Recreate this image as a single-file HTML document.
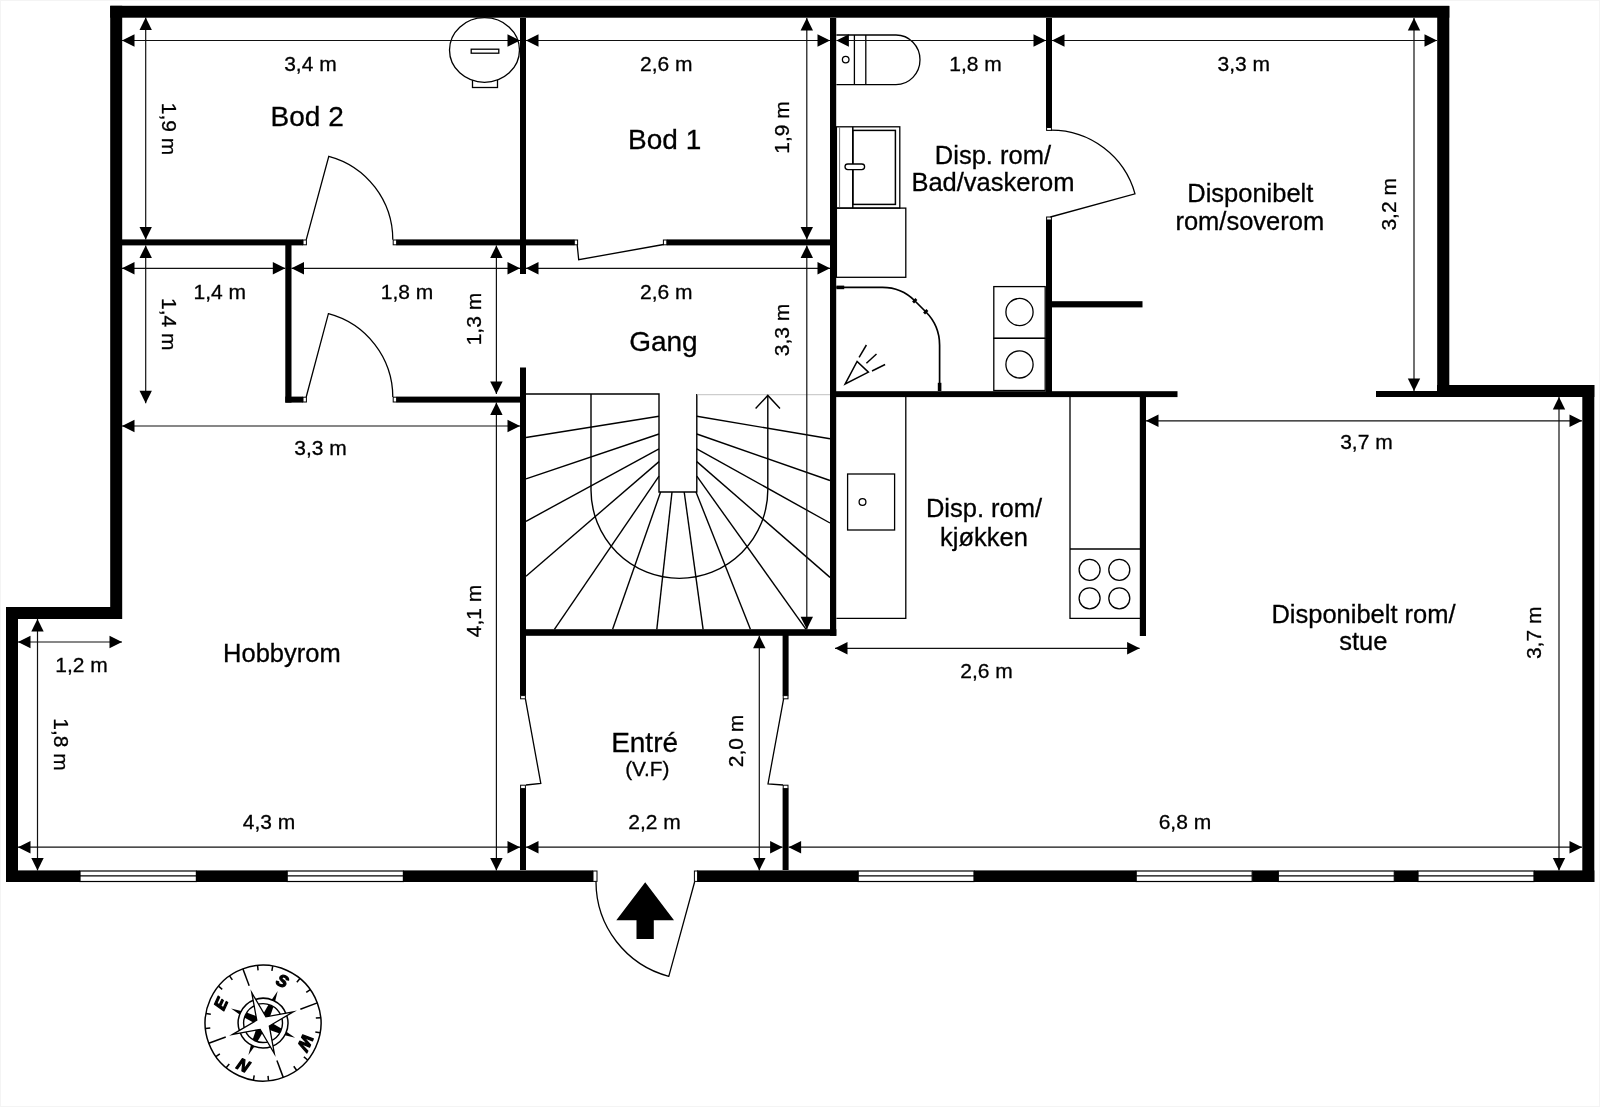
<!DOCTYPE html>
<html lang="no">
<head>
<meta charset="utf-8">
<title>Plantegning</title>
<style>
html,body{margin:0;padding:0;background:#fff;}
body{width:1600px;height:1107px;overflow:hidden;}
svg{display:block;will-change:transform;}
.w{fill:#000;}
.k{fill:#000;}
.t{fill:none;stroke:#000;stroke-width:1.3;}
.d{stroke:#111;stroke-width:1.2;}
.s{fill:none;stroke:#000;stroke-width:1.4;}
.sg{stroke:#cdcdcd;stroke-width:1.1;}
.f{fill:none;stroke:#000;stroke-width:1.3;}
.fg{stroke:#777;stroke-width:1;}
.f2{fill:none;stroke:#000;stroke-width:1.5;}
.sh{fill:none;stroke:#000;stroke-width:1.7;}
.sr{stroke:#000;stroke-width:1.5;}
.sh3{stroke:#000;stroke-width:3.6;}
.win{fill:#fff;stroke:#000;stroke-width:1.2;}
.wl{stroke:#000;stroke-width:1.2;}
.cap{fill:#fff;stroke:#000;stroke-width:1;}
.c{fill:none;stroke:#000;stroke-width:1.5;}
.tx{font-family:"Liberation Sans", sans-serif;fill:#000;stroke:#000;stroke-width:0.3px;text-anchor:middle;}
.cl{font-family:"Liberation Sans", sans-serif;font-weight:bold;font-style:italic;font-size:16.6px;fill:#000;stroke:#000;stroke-width:1.2;stroke-linejoin:round;text-anchor:middle;}
</style>
</head>
<body>
<svg width="1600" height="1107" viewBox="0 0 1600 1107">
<rect x="0" y="0" width="1600" height="1107" fill="#fff"/>
<rect x="0.5" y="0.5" width="1599" height="1106" fill="none" stroke="#f4f4f4" stroke-width="1"/>
<g id="outer">
<rect class="w" x="110.2" y="5.8" width="1339.1" height="11.9"/>
<rect class="w" x="110.2" y="5.8" width="12.0" height="613.2"/>
<rect class="w" x="6" y="607" width="116" height="12"/>
<rect class="w" x="6" y="607" width="12" height="275"/>
<rect class="w" x="1437.2" y="6" width="12.1" height="391"/>
<rect class="w" x="1437" y="385" width="157.3" height="12"/>
<rect class="w" x="1582.3" y="385" width="12.0" height="497"/>
<rect class="w" x="6" y="870.4" width="74" height="11.6"/>
<rect class="w" x="196.4" y="870.4" width="90.8" height="11.6"/>
<rect class="w" x="403.4" y="870.4" width="189.6" height="11.6"/>
<rect class="w" x="697" y="870.4" width="161.2" height="11.6"/>
<rect class="w" x="974" y="870.4" width="162.2" height="11.6"/>
<rect class="w" x="1252.2" y="870.4" width="26.1" height="11.6"/>
<rect class="w" x="1394.3" y="870.4" width="23.7" height="11.6"/>
<rect class="w" x="1534" y="870.4" width="60.3" height="11.6"/>
</g>
<g id="windows">
<rect class="win" x="80" y="871" width="116.4" height="10.5"/>
<line class="wl" x1="80" y1="875.9" x2="196.4" y2="875.9"/>
<rect class="win" x="287.2" y="871" width="116.2" height="10.5"/>
<line class="wl" x1="287.2" y1="875.9" x2="403.4" y2="875.9"/>
<rect class="win" x="858.2" y="871" width="115.8" height="10.5"/>
<line class="wl" x1="858.2" y1="875.9" x2="974" y2="875.9"/>
<rect class="win" x="1136.2" y="871" width="116.0" height="10.5"/>
<line class="wl" x1="1136.2" y1="875.9" x2="1252.2" y2="875.9"/>
<rect class="win" x="1278.3" y="871" width="116.0" height="10.5"/>
<line class="wl" x1="1278.3" y1="875.9" x2="1394.3" y2="875.9"/>
<rect class="win" x="1418" y="871" width="116" height="10.5"/>
<line class="wl" x1="1418" y1="875.9" x2="1534" y2="875.9"/>
</g>
<g id="inner">
<rect class="w" x="520" y="18" width="6" height="256"/>
<rect class="w" x="122" y="239.4" width="181" height="6.0"/>
<rect class="w" x="396.6" y="239.4" width="177.7" height="6.0"/>
<rect class="w" x="666.8" y="239.4" width="163.2" height="6.0"/>
<rect class="w" x="285.3" y="245" width="6.2" height="157.6"/>
<rect class="w" x="285.3" y="396.6" width="17.7" height="6.0"/>
<rect class="w" x="396.6" y="396.6" width="129.4" height="6.0"/>
<rect class="w" x="520" y="367.5" width="6" height="328.1"/>
<rect class="w" x="520" y="788.6" width="6" height="81.4"/>
<rect class="w" x="520" y="629.2" width="316.4" height="6.6"/>
<rect class="w" x="830" y="18" width="6.2" height="617.8"/>
<rect class="w" x="782.6" y="635" width="6.0" height="60.6"/>
<rect class="w" x="782.6" y="788.6" width="6.0" height="81.4"/>
<rect class="w" x="1046" y="18" width="6" height="109.5"/>
<rect class="w" x="1046" y="220" width="6" height="172"/>
<rect class="w" x="1052" y="301.2" width="90.5" height="6.2"/>
<rect class="w" x="830" y="391.2" width="347.5" height="5.9"/>
<rect class="w" x="1139.8" y="397" width="6.2" height="239"/>
<rect class="w" x="1376" y="391" width="61" height="6"/>
</g>
<g id="caps">
<rect class="cap" x="303" y="240" width="3.4" height="4.8"/>
<rect class="cap" x="393.2" y="240" width="3.4" height="4.8"/>
<rect class="cap" x="303" y="397.2" width="3.4" height="4.8"/>
<rect class="cap" x="393.2" y="397.2" width="3.4" height="4.8"/>
<rect class="cap" x="574.3" y="240" width="3.3" height="4.8"/>
<rect class="cap" x="663.4" y="240" width="3.4" height="4.8"/>
<rect class="cap" x="520.6" y="695.6" width="4.8" height="3.2"/>
<rect class="cap" x="520.6" y="785.2" width="4.8" height="3.4"/>
<rect class="cap" x="783.2" y="695.6" width="4.8" height="3.2"/>
<rect class="cap" x="783.2" y="785.2" width="4.8" height="3.4"/>
<rect class="cap" x="1046.6" y="127.5" width="4.8" height="2.9"/>
<rect class="cap" x="1046.6" y="217" width="4.8" height="3"/>
<rect class="cap" x="593" y="871" width="4" height="10.4"/>
<rect class="cap" x="694.4" y="871" width="3.2" height="10.4"/>
</g>
<g id="doors">
<path class="t" d="M306.2,239.8 L328.8,156.3 A86.5,86.5 0 0 1 392.8,239.8"/>
<path class="t" d="M306.2,397 L328.4,313.7 A86.5,86.5 0 0 1 392.8,397"/>
<path class="t" d="M577.2,244.9 L578.7,259.7 L663.6,244.5"/>
<path class="t" d="M525.4,698.8 L540.8,783.4 L526,785"/>
<path class="t" d="M783.6,698.8 L768,783.8 L783,785"/>
<path class="t" d="M1051,130.2 A87,87 0 0 1 1135,193.8 L1050.4,217"/>
<path class="t" d="M596,882 A97.85,97.85 0 0 0 668.8,976.3 L694.6,882"/>
<polygon class="k" points="645.2,882.2 674,920.2 653.8,920.2 653.8,938.9 636.5,938.9 636.5,920.2 616.3,920.2"/>
</g>
<g id="stairs">
<path class="s" d="M526,394 L659,394 L659,492 L696.8,492 L696.8,394"/>
<line class="sg" x1="697.4" y1="394.6" x2="830" y2="394.6"/>
<path class="s" d="M591,394 L591,490 A88.4,88.4 0 0 0 767.8,490 L767.8,396"/>
<path class="s" d="M755.6,408.6 L767.8,395.4 L780,408.6"/>
<line class="s" x1="659" y1="416.3" x2="526" y2="437.5"/>
<line class="s" x1="659" y1="434" x2="526" y2="478.8"/>
<line class="s" x1="659" y1="448.9" x2="526" y2="521.3"/>
<line class="s" x1="659" y1="461.6" x2="526" y2="576.2"/>
<line class="s" x1="659" y1="476.2" x2="554.4" y2="629.3"/>
<line class="s" x1="660.6" y1="492" x2="612.6" y2="629.3"/>
<line class="s" x1="672" y1="492" x2="656.8" y2="629.3"/>
<line class="s" x1="684.2" y1="492" x2="703.1" y2="629.3"/>
<line class="s" x1="696" y1="492" x2="750.4" y2="629.3"/>
<line class="s" x1="696.8" y1="476.2" x2="806.1" y2="629.3"/>
<line class="s" x1="696.8" y1="461.6" x2="830" y2="577.4"/>
<line class="s" x1="696.8" y1="448.9" x2="830" y2="523"/>
<line class="s" x1="696.8" y1="434" x2="830" y2="480.5"/>
<line class="s" x1="696.8" y1="416.3" x2="830" y2="438.8"/>
</g>
<g id="fixtures">
<rect class="f" x="472.5" y="78" width="25" height="9.5"/>
<ellipse class="f" cx="484.5" cy="50" rx="35" ry="32.3" style="fill:#fff"/>
<rect class="f" x="471.2" y="49.2" width="27.6" height="4"/>
<path class="f" d="M836.4,35 L896,35 A24,24.8 0 0 1 896,84.6 L836.4,84.6"/>
<line class="f" x1="854.4" y1="35" x2="854.4" y2="84.6"/>
<line class="f" x1="865.8" y1="35" x2="865.8" y2="84.6"/>
<circle class="f" cx="845.7" cy="59.6" r="3.3"/>
<rect class="f" x="836.4" y="126.8" width="63.4" height="81.3"/>
<line class="fg" x1="839.6" y1="126.8" x2="839.6" y2="208.1"/>
<line class="f2" x1="852.8" y1="126.8" x2="852.8" y2="208.1"/>
<rect class="f2" x="852.8" y="130.4" width="42.6" height="74"/>
<rect class="f" x="845" y="164" width="19.6" height="5.6" rx="2.8" style="fill:#fff"/>
<rect class="f" x="836.4" y="208.1" width="69.4" height="69.2"/>
<path class="sh" d="M836.4,287.4 L882.5,287.4 A45.6,45.6 0 0 1 914.74,300.76 L925.74,311.76 A47.3,47.3 0 0 1 939.6,345.2 L939.6,391"/>
<line class="sh3" x1="836.4" y1="287.4" x2="844.2" y2="287.4"/>
<line class="sh3" x1="939.6" y1="382.8" x2="939.6" y2="391"/>
<line class="sh3" style="stroke-width:2.8" x1="913.1" y1="302.4" x2="916.4" y2="299.1"/>
<line class="sh3" style="stroke-width:2.8" x1="924.1" y1="313.4" x2="927.4" y2="310.1"/>
<polygon class="f" style="stroke-width:1.5" points="845.2,383.9 857.1,361.4 868.4,372.1"/>
<line class="sr" x1="859.1" y1="357.4" x2="866.4" y2="345"/>
<line class="sr" x1="866.4" y1="363.3" x2="876.5" y2="354"/>
<line class="sr" x1="872" y1="371" x2="885.1" y2="364.5"/>
<rect class="f" x="993.8" y="286.6" width="51.4" height="51.7"/>
<rect class="f" x="993.8" y="338.3" width="51.4" height="52.2"/>
<circle class="f" cx="1019.5" cy="312" r="13.6"/>
<circle class="f" cx="1019.5" cy="364.4" r="13.6"/>
<path class="f" d="M905.8,397 L905.8,618.4 L836.4,618.4"/>
<path class="f" d="M1070,397 L1070,618.4 L1140,618.4"/>
<line class="f" x1="1070" y1="549" x2="1140" y2="549"/>
<rect class="f" x="847.6" y="474" width="47" height="56"/>
<circle class="f" cx="862.5" cy="502" r="3.4"/>
<circle class="f" cx="1089.6" cy="569.8" r="10.5"/>
<circle class="f" cx="1089.6" cy="598.3" r="10.5"/>
<circle class="f" cx="1119.3" cy="569.8" r="10.5"/>
<circle class="f" cx="1119.3" cy="598.3" r="10.5"/>
</g>
<g id="dims">
<line class="d" x1="122" y1="40.5" x2="520" y2="40.5"/>
<polygon class="k" points="122,40.5 134.5,34.3 134.5,46.7"/>
<polygon class="k" points="520,40.5 507.5,34.3 507.5,46.7"/>
<line class="d" x1="526" y1="40.5" x2="830" y2="40.5"/>
<polygon class="k" points="526,40.5 538.5,34.3 538.5,46.7"/>
<polygon class="k" points="830,40.5 817.5,34.3 817.5,46.7"/>
<line class="d" x1="836.4" y1="40.5" x2="1046" y2="40.5"/>
<polygon class="k" points="836.4,40.5 848.9,34.3 848.9,46.7"/>
<polygon class="k" points="1046,40.5 1033.5,34.3 1033.5,46.7"/>
<line class="d" x1="1052" y1="40.5" x2="1437" y2="40.5"/>
<polygon class="k" points="1052,40.5 1064.5,34.3 1064.5,46.7"/>
<polygon class="k" points="1437,40.5 1424.5,34.3 1424.5,46.7"/>
<line class="d" x1="145.7" y1="17.6" x2="145.7" y2="239.4"/>
<polygon class="k" points="145.7,17.6 139.5,30.1 151.89999999999998,30.1"/>
<polygon class="k" points="145.7,239.4 139.5,226.9 151.89999999999998,226.9"/>
<line class="d" x1="806.8" y1="18" x2="806.8" y2="239.4"/>
<polygon class="k" points="806.8,18 800.5999999999999,30.5 813.0,30.5"/>
<polygon class="k" points="806.8,239.4 800.5999999999999,226.9 813.0,226.9"/>
<line class="d" x1="1414" y1="18" x2="1414" y2="391"/>
<polygon class="k" points="1414,18 1407.8,30.5 1420.2,30.5"/>
<polygon class="k" points="1414,391 1407.8,378.5 1420.2,378.5"/>
<line class="d" x1="122" y1="268.3" x2="285.3" y2="268.3"/>
<polygon class="k" points="122,268.3 134.5,262.1 134.5,274.5"/>
<polygon class="k" points="285.3,268.3 272.8,262.1 272.8,274.5"/>
<line class="d" x1="291.5" y1="268.3" x2="520" y2="268.3"/>
<polygon class="k" points="291.5,268.3 304.0,262.1 304.0,274.5"/>
<polygon class="k" points="520,268.3 507.5,262.1 507.5,274.5"/>
<line class="d" x1="526" y1="268.3" x2="830" y2="268.3"/>
<polygon class="k" points="526,268.3 538.5,262.1 538.5,274.5"/>
<polygon class="k" points="830,268.3 817.5,262.1 817.5,274.5"/>
<line class="d" x1="145.7" y1="245.4" x2="145.7" y2="403.2"/>
<polygon class="k" points="145.7,245.4 139.5,257.9 151.89999999999998,257.9"/>
<polygon class="k" points="145.7,403.2 139.5,390.7 151.89999999999998,390.7"/>
<line class="d" x1="496.4" y1="245.4" x2="496.4" y2="394"/>
<polygon class="k" points="496.4,245.4 490.2,257.9 502.59999999999997,257.9"/>
<polygon class="k" points="496.4,394 490.2,381.5 502.59999999999997,381.5"/>
<line class="d" x1="806.8" y1="245.4" x2="806.8" y2="629.2"/>
<polygon class="k" points="806.8,245.4 800.5999999999999,257.9 813.0,257.9"/>
<polygon class="k" points="806.8,629.2 800.5999999999999,616.7 813.0,616.7"/>
<line class="d" x1="122" y1="426" x2="520" y2="426"/>
<polygon class="k" points="122,426 134.5,419.8 134.5,432.2"/>
<polygon class="k" points="520,426 507.5,419.8 507.5,432.2"/>
<line class="d" x1="496.4" y1="402.4" x2="496.4" y2="870.5"/>
<polygon class="k" points="496.4,402.4 490.2,414.9 502.59999999999997,414.9"/>
<polygon class="k" points="496.4,870.5 490.2,858.0 502.59999999999997,858.0"/>
<line class="d" x1="1146" y1="420.8" x2="1582" y2="420.8"/>
<polygon class="k" points="1146,420.8 1158.5,414.6 1158.5,427.0"/>
<polygon class="k" points="1582,420.8 1569.5,414.6 1569.5,427.0"/>
<line class="d" x1="1559" y1="397" x2="1559" y2="870.5"/>
<polygon class="k" points="1559,397 1552.8,409.5 1565.2,409.5"/>
<polygon class="k" points="1559,870.5 1552.8,858.0 1565.2,858.0"/>
<line class="d" x1="18" y1="642" x2="122" y2="642"/>
<polygon class="k" points="18,642 30.5,635.8 30.5,648.2"/>
<polygon class="k" points="122,642 109.5,635.8 109.5,648.2"/>
<line class="d" x1="37.5" y1="619" x2="37.5" y2="870.5"/>
<polygon class="k" points="37.5,619 31.3,631.5 43.7,631.5"/>
<polygon class="k" points="37.5,870.5 31.3,858.0 43.7,858.0"/>
<line class="d" x1="835" y1="648.3" x2="1139.6" y2="648.3"/>
<polygon class="k" points="835,648.3 847.5,642.0999999999999 847.5,654.5"/>
<polygon class="k" points="1139.6,648.3 1127.1,642.0999999999999 1127.1,654.5"/>
<line class="d" x1="18" y1="847.2" x2="520" y2="847.2"/>
<polygon class="k" points="18,847.2 30.5,841.0 30.5,853.4000000000001"/>
<polygon class="k" points="520,847.2 507.5,841.0 507.5,853.4000000000001"/>
<line class="d" x1="526" y1="847.2" x2="782.6" y2="847.2"/>
<polygon class="k" points="526,847.2 538.5,841.0 538.5,853.4000000000001"/>
<polygon class="k" points="782.6,847.2 770.1,841.0 770.1,853.4000000000001"/>
<line class="d" x1="788.6" y1="847.2" x2="1582" y2="847.2"/>
<polygon class="k" points="788.6,847.2 801.1,841.0 801.1,853.4000000000001"/>
<polygon class="k" points="1582,847.2 1569.5,841.0 1569.5,853.4000000000001"/>
<line class="d" x1="759.3" y1="635.8" x2="759.3" y2="870.5"/>
<polygon class="k" points="759.3,635.8 753.0999999999999,648.3 765.5,648.3"/>
<polygon class="k" points="759.3,870.5 753.0999999999999,858.0 765.5,858.0"/>
</g>
<g id="labels">
<text class="tx" x="310.4" y="71.4" font-size="21">3,4 m</text>
<text class="tx" x="666.3" y="71.4" font-size="21">2,6 m</text>
<text class="tx" x="975.6" y="71.4" font-size="21">1,8 m</text>
<text class="tx" x="1243.8" y="71.4" font-size="21">3,3 m</text>
<text class="tx" x="219.8" y="299.2" font-size="21">1,4 m</text>
<text class="tx" x="407.1" y="299.2" font-size="21">1,8 m</text>
<text class="tx" x="666.3" y="299.2" font-size="21">2,6 m</text>
<text class="tx" x="320.6" y="454.8" font-size="21">3,3 m</text>
<text class="tx" x="1366.4" y="449.4" font-size="21">3,7 m</text>
<text class="tx" x="81.6" y="671.8" font-size="21">1,2 m</text>
<text class="tx" x="986.6" y="677.6" font-size="21">2,6 m</text>
<text class="tx" x="269.1" y="828.8" font-size="21">4,3 m</text>
<text class="tx" x="654.6" y="828.8" font-size="21">2,2 m</text>
<text class="tx" x="1184.9" y="828.8" font-size="21">6,8 m</text>
<text class="tx" x="162" y="129.1" font-size="21" transform="rotate(90 162 129.1)">1,9 m</text>
<text class="tx" x="162" y="324.3" font-size="21" transform="rotate(90 162 324.3)">1,4 m</text>
<text class="tx" x="54.3" y="744.5" font-size="21" transform="rotate(90 54.3 744.5)">1,8 m</text>
<text class="tx" x="788.6" y="127.5" font-size="21" transform="rotate(-90 788.6 127.5)">1,9 m</text>
<text class="tx" x="481" y="319.1" font-size="21" transform="rotate(-90 481 319.1)">1,3 m</text>
<text class="tx" x="788.6" y="330" font-size="21" transform="rotate(-90 788.6 330)">3,3 m</text>
<text class="tx" x="1395.6" y="204.3" font-size="21" transform="rotate(-90 1395.6 204.3)">3,2 m</text>
<text class="tx" x="481" y="610.9" font-size="21" transform="rotate(-90 481 610.9)">4,1 m</text>
<text class="tx" x="742.6" y="740.9" font-size="21" transform="rotate(-90 742.6 740.9)">2,0 m</text>
<text class="tx" x="1541" y="632.8" font-size="21" transform="rotate(-90 1541 632.8)">3,7 m</text>
<text class="tx" x="307.2" y="125.6" font-size="28">Bod 2</text>
<text class="tx" x="664.7" y="148.8" font-size="28">Bod 1</text>
<text class="tx" x="663.4" y="350.6" font-size="28">Gang</text>
<text class="tx" x="281.9" y="662" font-size="25.5">Hobbyrom</text>
<text class="tx" x="644.6" y="752.2" font-size="28">Entré</text>
<text class="tx" x="647.3" y="776.4" font-size="20.8">(V.F)</text>
<text class="tx" x="992.9" y="163.6" font-size="25.5">Disp. rom/</text>
<text class="tx" x="992.9" y="191.3" font-size="25.5">Bad/vaskerom</text>
<text class="tx" x="1250.3" y="201.5" font-size="25.5">Disponibelt</text>
<text class="tx" x="1249.8" y="229.6" font-size="25.5">rom/soverom</text>
<text class="tx" x="984" y="517.4" font-size="25.5">Disp. rom/</text>
<text class="tx" x="983.9" y="545.6" font-size="25.5">kjøkken</text>
<text class="tx" x="1363.5" y="622.6" font-size="25.5">Disponibelt rom/</text>
<text class="tx" x="1363.3" y="650.2" font-size="25.5">stue</text>
</g>
<g id="compass" transform="translate(263.05 1023.1) rotate(204.6)">
<circle class="c" cx="0" cy="0" r="57.9"/>
<line class="c" x1="13.72" y1="-51.19" x2="14.99" y2="-55.93"/>
<line class="c" x1="26.50" y1="-45.90" x2="28.95" y2="-50.14"/>
<line class="c" x1="28.14" y1="-28.14" x2="40.94" y2="-40.94"/>
<line class="c" x1="45.90" y1="-26.50" x2="50.14" y2="-28.95"/>
<line class="c" x1="51.19" y1="-13.72" x2="55.93" y2="-14.99"/>
<line class="c" x1="51.19" y1="13.72" x2="55.93" y2="14.99"/>
<line class="c" x1="45.90" y1="26.50" x2="50.14" y2="28.95"/>
<line class="c" x1="28.14" y1="28.14" x2="40.94" y2="40.94"/>
<line class="c" x1="26.50" y1="45.90" x2="28.95" y2="50.14"/>
<line class="c" x1="13.72" y1="51.19" x2="14.99" y2="55.93"/>
<line class="c" x1="-13.72" y1="51.19" x2="-14.99" y2="55.93"/>
<line class="c" x1="-26.50" y1="45.90" x2="-28.95" y2="50.14"/>
<line class="c" x1="-28.14" y1="28.14" x2="-40.94" y2="40.94"/>
<line class="c" x1="-45.90" y1="26.50" x2="-50.14" y2="28.95"/>
<line class="c" x1="-51.19" y1="13.72" x2="-55.93" y2="14.99"/>
<line class="c" x1="-51.19" y1="-13.72" x2="-55.93" y2="-14.99"/>
<line class="c" x1="-45.90" y1="-26.50" x2="-50.14" y2="-28.95"/>
<line class="c" x1="-28.14" y1="-28.14" x2="-40.94" y2="-40.94"/>
<line class="c" x1="-26.50" y1="-45.90" x2="-28.95" y2="-50.14"/>
<line class="c" x1="-13.72" y1="-51.19" x2="-14.99" y2="-55.93"/>
<polygon class="k" transform="rotate(0)" points="-4.4,0 -2.65,-19.4 -1.9,-24.9 0,-35.2 1.9,-24.9 2.65,-19.4 4.4,0"/>
<polygon class="k" transform="rotate(90)" points="-4.4,0 -2.65,-19.4 -1.9,-24.9 0,-35.2 1.9,-24.9 2.65,-19.4 4.4,0"/>
<polygon class="k" transform="rotate(180)" points="-4.4,0 -2.65,-19.4 -1.9,-24.9 0,-35.2 1.9,-24.9 2.65,-19.4 4.4,0"/>
<polygon class="k" transform="rotate(270)" points="-4.4,0 -2.65,-19.4 -1.9,-24.9 0,-35.2 1.9,-24.9 2.65,-19.4 4.4,0"/>
<circle cx="0" cy="0" r="22.1" fill="none" stroke="#fff" stroke-width="5.4"/>
<circle cx="0" cy="0" r="24.9" fill="none" stroke="#000" stroke-width="1.5"/>
<circle cx="0" cy="0" r="19.4" fill="none" stroke="#000" stroke-width="1.4"/>
<polygon points="22.91,-22.91 6.90,-0.00 22.91,22.91 0.00,6.90 -22.91,22.91 -6.90,0.00 -22.91,-22.91 -0.00,-6.90" fill="#fff" stroke="#000" stroke-width="1.3" stroke-linejoin="miter" stroke-miterlimit="12"/>
<text class="cl" x="0" y="-40.8" transform="rotate(0)">N</text>
<text class="cl" x="0" y="-40.8" transform="rotate(90)">E</text>
<text class="cl" x="0" y="-40.8" transform="rotate(180)">S</text>
<text class="cl" x="0" y="-40.8" transform="rotate(270)">W</text>
</g>
</svg>
</body>
</html>
